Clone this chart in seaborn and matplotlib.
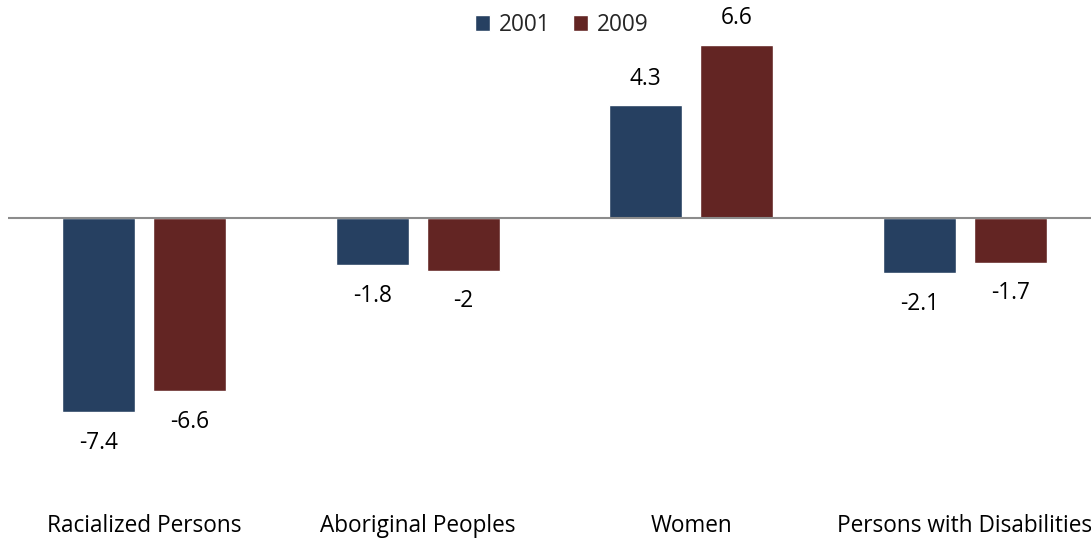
import matplotlib
matplotlib.use("Agg")
import matplotlib.pyplot as plt
import seaborn as sns
import pandas as pd

categories = ["Racialized Persons", "Aboriginal Peoples", "Women", "Persons with Disabilities"]
years = ["2001", "2009"]
values_2001 = [-7.4, -1.8, 4.3, -2.1]
values_2009 = [-6.6, -2.0, 6.6, -1.7]
labels_2001 = ["-7.4", "-1.8", "4.3", "-2.1"]
labels_2009 = ["-6.6", "-2", "6.6", "-1.7"]
colors = ["#264061", "#632523"]

df = pd.DataFrame({
    "category": categories * 2,
    "year": [years[0]] * 4 + [years[1]] * 4,
    "value": values_2001 + values_2009,
})

sns.set_theme(style="white")
plt.rcParams["font.family"] = ["Open Sans", "DejaVu Sans"]
FS = 16.3

fig = plt.figure(figsize=(10.91, 5.38), dpi=100)
ax = fig.add_axes([7.5 / 1091, 1 - 480.8 / 538, 1094 / 1091, 473 / 538])

sns.barplot(data=df, x="category", y="value", hue="year", order=categories,
            hue_order=years, palette=colors, width=0.665, gap=0.2,
            saturation=1, ax=ax, legend=True)

ax.set_xlim(-0.5, 3.5)
ax.set_ylim(-10, 8)
ax.axhline(0, color="#8c8c8c", lw=1.5, zorder=3)
for s in ax.spines.values():
    s.set_visible(False)
ax.set_yticks([])
ax.set_xlabel("")
ax.set_ylabel("")
ax.tick_params(axis="x", length=0, pad=24, labelsize=FS, labelcolor="#000000")

for container, labs in zip(ax.containers, [labels_2001, labels_2009]):
    for bar, lab in zip(container, labs):
        h = bar.get_height()
        x = bar.get_x() + bar.get_width() / 2
        off = 19 if h > 0 else -22
        ax.annotate(lab, (x, h), xytext=(0, off), textcoords="offset points",
                    ha="center", va="center", fontsize=FS, color="#000000")

handles, lbls = ax.get_legend_handles_labels()
ax.legend(handles, lbls, loc="center", bbox_to_anchor=(562 / 1091, 1 - 25 / 538),
          bbox_transform=fig.transFigure, ncol=2, frameon=False, fontsize=FS,
          handlelength=0.65, handleheight=0.65, handletextpad=0.4, columnspacing=1.0)

fig.savefig("out.png", dpi=100)
